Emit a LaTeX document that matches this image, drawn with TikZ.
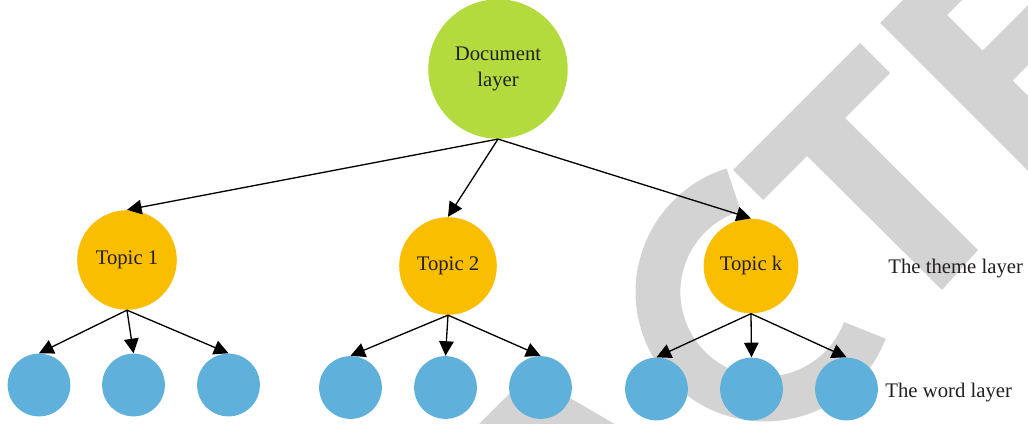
\documentclass[tikz,border=0pt]{standalone}
\usepackage{fontspec}
\setmainfont{Liberation Serif}
\usetikzlibrary{arrows.meta}
\definecolor{docgreen}{HTML}{B3DB3E}
\definecolor{topicorange}{HTML}{F9BE00}
\definecolor{wordblue}{HTML}{5FB0DA}
\definecolor{wmgrey}{HTML}{D3D3D3}
\definecolor{txt}{HTML}{231F20}
\tikzset{
  docnode/.style={circle, fill=docgreen, minimum size=140*0.5669pt, inner sep=0pt, align=center, text=txt},
  topicnode/.style={circle, fill=topicorange, minimum size=98*0.5669pt, inner sep=0pt, text=txt},
  wordnode/.style={circle, fill=wordblue, minimum size=63*0.5669pt, inner sep=0pt},
  layerlabel/.style={anchor=west, text=txt, inner sep=0pt},
  link/.style={-{Triangle[length=8.3pt,width=8.3pt]}, line width=0.75pt, black},
  watermark/.style={fill=wmgrey, draw=none}
}
\begin{document}
\begin{tikzpicture}[x=0.02cm, y=-0.02cm, font=\fontsize{11.8pt}{14.4pt}\selectfont]
\useasboundingbox (0,0) rectangle (1028,423);
% watermark
\begin{scope}
\clip (0,0) rectangle (1028,423);
\fill[watermark] (470,433) -- (529,374) -- (630,433) -- cycle;
\draw[wmgrey, line width=25.5pt] (733.7,189.7) arc[start angle=253, end angle=21, radius=107];
\fill[watermark] (733,170) -- (860,43) -- (890,73) -- (763,200) -- cycle;
\fill[watermark] (790,139) -- (829,102) -- (978,250) -- (942,290) -- cycle;
\fill[watermark] (880,23) -- (1100,-197) -- (1100,-138) -- (947,15) -- (982.5,50.5)
  -- (1100,-67) -- (1100,-7) -- (1012.5,80.5) -- (1100,168) -- (1100,243) -- cycle;
\end{scope}
% nodes
\node[docnode] (doc) at (498,69) {Document\\layer};
\node[topicnode, minimum size=100*0.5669pt] (t1) at (127,260) {Topic 1};
\node[topicnode] (t2) at (448,266) {Topic 2};
\node[topicnode, minimum size=95*0.5669pt] (tk) at (751,266) {Topic k};
\node[wordnode] (w11) at (39,385) {};
\node[wordnode] (w12) at (133.5,385) {};
\node[wordnode] (w13) at (228.5,385) {};
\node[wordnode] (w21) at (350.5,387.5) {};
\node[wordnode] (w22) at (445.5,387.5) {};
\node[wordnode] (w23) at (540.5,387.5) {};
\node[wordnode] (wk1) at (656.5,389) {};
\node[wordnode] (wk2) at (751.5,389) {};
\node[wordnode] (wk3) at (846.5,389) {};
\node[layerlabel] (theme) at (888,269) {The theme layer};
\node[layerlabel] (word) at (885,393) {The word layer};
% connectors
\foreach \t in {t1,t2,tk}{\draw[link] (doc.south) -- (\t.north);}
\foreach \w in {w11,w12,w13}{\draw[link] (t1.south) -- (\w.north);}
\foreach \w in {w21,w22,w23}{\draw[link] (t2.south) -- (\w.north);}
\foreach \w in {wk1,wk2,wk3}{\draw[link] (tk.south) -- (\w.north);}
\end{tikzpicture}
\end{document}
